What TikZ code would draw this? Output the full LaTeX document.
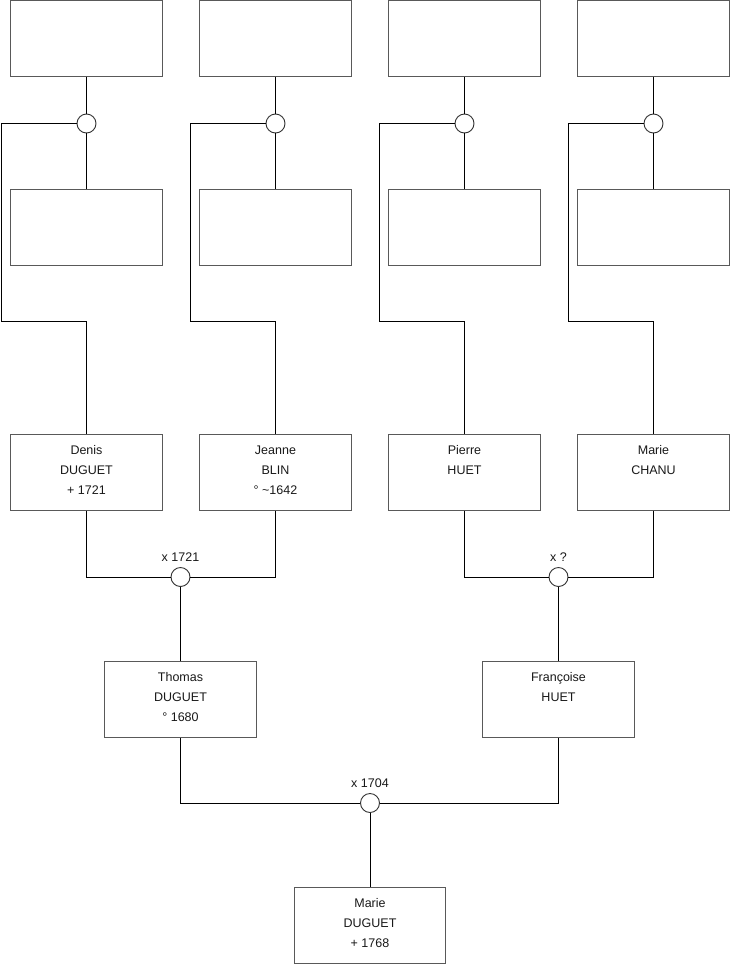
\documentclass[tikz,border=0pt]{standalone}
\usepackage{fontspec}
\setmainfont{Liberation Sans}
\begin{document}
\begin{tikzpicture}[x=1pt,y=-1pt,
  pbox/.style={draw=black!65, line width=1pt, fill=white, minimum width=151.5pt, minimum height=75.5pt, inner sep=0pt},
  ptext/.style={anchor=north, align=center, inner sep=0pt, font=\fontsize{12.5pt}{20pt}\selectfont, text=black!90},
  lbl/.style={anchor=base, inner sep=0pt, font=\fontsize{12.5pt}{15pt}\selectfont, text=black!90},
  unionc/.style={circle, draw=black!80, line width=0.9pt, fill=white, minimum size=19pt, inner sep=0pt},
  link/.style={draw=black, line width=0.9pt}
]
\useasboundingbox (0,0) rectangle (740,975);
\fill[white] (0,0) rectangle (740,975);

% top row (empty)
\node[pbox] (ta) at (86.5,38.3) {};
\node[pbox] (tb) at (275.5,38.3) {};
\node[pbox] (tc) at (464.5,38.3) {};
\node[pbox] (td) at (653.5,38.3) {};
% second row (empty)
\node[pbox] (sa) at (86.5,227.5) {};
\node[pbox] (sb) at (275.5,227.5) {};
\node[pbox] (sc) at (464.5,227.5) {};
\node[pbox] (sd) at (653.5,227.5) {};
% upper union circles
\node[unionc] (ua) at (86.5,123.5) {};
\node[unionc] (ub) at (275.5,123.5) {};
\node[unionc] (uc) at (464.5,123.5) {};
\node[unionc] (ud) at (653.5,123.5) {};

% third row
\node[pbox] (denis) at (86.5,472.5) {};
\node[ptext] at ([yshift=-11]denis.north) {Denis\\DUGUET\\+ 1721};
\node[pbox] (jeanne) at (275.5,472.5) {};
\node[ptext] at ([yshift=-11]jeanne.north) {Jeanne\\BLIN\\° \char`~1642};
\node[pbox] (pierre) at (464.5,472.5) {};
\node[ptext] at ([yshift=-11]pierre.north) {Pierre\\HUET};
\node[pbox] (marie1) at (653.5,472.5) {};
\node[ptext] at ([yshift=-11]marie1.north) {Marie\\CHANU};

% fourth row
\node[pbox] (thomas) at (180.5,699.5) {};
\node[ptext] at ([yshift=-11]thomas.north) {Thomas\\DUGUET\\° 1680};
\node[pbox] (francoise) at (558.5,699.5) {};
\node[ptext] at ([yshift=-11]francoise.north) {Françoise\\HUET};

% bottom
\node[pbox] (marie2) at (370,925.7) {};
\node[ptext] at ([yshift=-11]marie2.north) {Marie\\DUGUET\\+ 1768};

% marriage circles
\node[unionc] (m1) at (180.5,577) {};
\node[lbl] at ([yshift=5.5]m1.north) {x 1721};
\node[unionc] (m2) at (558.5,577) {};
\node[lbl] at ([yshift=5.5]m2.north) {x ?};
\node[unionc] (m3) at (370,803) {};
\node[lbl] at ([yshift=5.5]m3.north) {x 1704};

% corner coordinates
\coordinate (ka) at (1.7,321.3);
\coordinate (kb) at (190.7,321.3);
\coordinate (kc) at (379.7,321.3);
\coordinate (kd) at (568.7,321.3);

% upper connectors
\foreach \t/\u/\s/\k/\p in {ta/ua/sa/ka/denis, tb/ub/sb/kb/jeanne, tc/uc/sc/kc/pierre, td/ud/sd/kd/marie1}{
  \draw[link] (\t.south) -- (\u.north);
  \draw[link] (\u.south) -- (\s.north);
  \draw[link] (\u.west) -| (\k) -| (\p.north);
}

% marriages
\draw[link] (denis.south) |- (m1.west);
\draw[link] (jeanne.south) |- (m1.east);
\draw[link] (m1.south) -- (thomas.north);
\draw[link] (pierre.south) |- (m2.west);
\draw[link] (marie1.south) |- (m2.east);
\draw[link] (m2.south) -- (francoise.north);
\draw[link] (thomas.south) |- (m3.west);
\draw[link] (francoise.south) |- (m3.east);
\draw[link] (m3.south) -- (marie2.north);
\end{tikzpicture}
\end{document}
